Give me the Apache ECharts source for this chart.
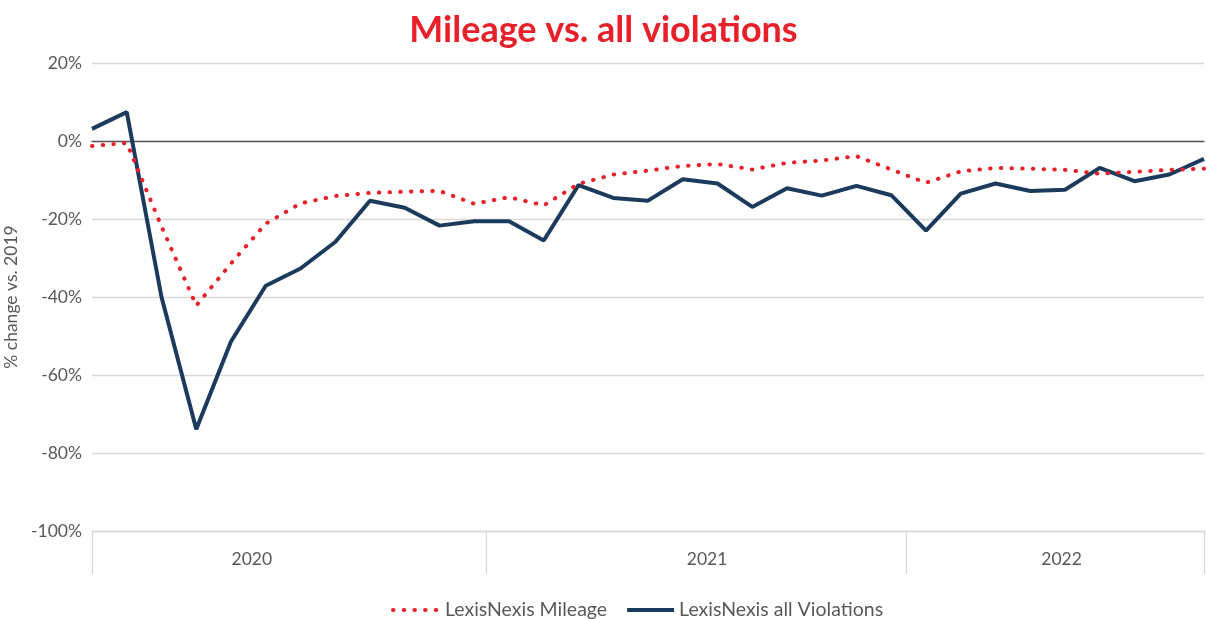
<!DOCTYPE html>
<html>
<head>
<meta charset="utf-8">
<script src="https://cdn.jsdelivr.net/npm/echarts@6/dist/echarts.min.js"></script>
<style>
html,body{margin:0;padding:0;background:#fff;}
#c{width:1207px;height:619px;}
</style>
</head>
<body>
<div id="c"></div>
<script>
// Monthly categories Jan 2020 – Sep 2022
const years = ['2020', '2021', '2022'];
const monthsPerYear = [12, 12, 9];
const categories = [];
years.forEach((y, i) => { for (let m = 1; m <= monthsPerYear[i]; m++) categories.push(y + '-' + String(m).padStart(2, '0')); });

const mileage = [-1.3, -0.5, -21.9, -42.2, -31.4, -21.2, -16.0, -14.1, -13.3, -13.0, -12.8, -16.1,
                 -14.4, -16.5, -11.0, -8.6, -7.6, -6.4, -5.9, -7.3, -5.6, -5.0, -3.9, -7.3,
                 -10.7, -7.8, -6.9, -7.1, -7.4, -8.4, -7.9, -7.4, -7.1];
const violations = [3.1, 7.4, -40.0, -73.9, -51.4, -37.1, -32.7, -25.9, -15.3, -17.1, -21.7, -20.6,
                    -20.6, -25.5, -11.3, -14.6, -15.3, -9.8, -10.9, -16.9, -12.1, -14.0, -11.5, -13.9,
                    -23.0, -13.5, -10.9, -12.8, -12.5, -6.9, -10.3, -8.6, -4.6];
const seriesNames = ['LexisNexis Mileage', 'LexisNexis all Violations'];
const yTicks = [20, 0, -20, -40, -60, -80, -100];

const chart = echarts.init(document.getElementById('c'), null, {renderer: 'canvas'});
const FONT = 'Lato, "Noto Sans", sans-serif';
const last = categories.length - 1;
// group layout (axis index units)
const yearLabelAt = [4.6, 17.7, 27.9];
const yearDividers = [0, 11.35, 23.43, last];

chart.setOption({
  animation: false,
  title: {
    text: 'Mileage vs. all violations',
    left: 'center', top: 7,
    textStyle: {color: '#E8202A', fontSize: 36, fontWeight: 'bold', fontFamily: FONT}
  },
  legend: {
    bottom: -6, left: 386,
    itemWidth: 47, itemHeight: 4, itemGap: 18,
    itemStyle: {opacity: 0},
    lineStyle: {width: 4},
    textStyle: {color: '#595959', fontSize: 19.5, fontFamily: FONT},
    data: seriesNames
  },
  grid: {left: 92, right: 3, top: 63, bottom: 88, containLabel: false, outerBoundsMode: 'none'},
  xAxis: [{
    type: 'category',
    data: categories,
    boundaryGap: false,
    axisLine: {show: true, onZero: true, lineStyle: {color: '#595959', width: 1.3}},
    axisTick: {show: false},
    axisLabel: {show: false},
    splitLine: {show: false}
  }, {
    type: 'value',
    min: 0, max: last,
    position: 'bottom',
    axisLine: {show: true, onZero: false, lineStyle: {color: '#d9d9d9', width: 1.3}},
    axisTick: {show: true, length: 43, customValues: yearDividers, lineStyle: {color: '#d9d9d9', width: 1.3}},
    axisLabel: {
      show: true, customValues: yearLabelAt, margin: 19,
      color: '#595959', fontSize: 17.5, fontFamily: FONT,
      formatter: (v) => { const i = yearLabelAt.indexOf(v); return i >= 0 ? years[i] : ''; }
    },
    splitLine: {show: false}
  }],
  yAxis: {
    type: 'value',
    min: -100, max: 20, interval: 20,
    name: '% change vs. 2019',
    nameLocation: 'middle', nameGap: 65, nameRotate: 90,
    nameTextStyle: {color: '#595959', fontSize: 17.5, fontFamily: FONT},
    axisLine: {show: false},
    axisTick: {show: false},
    axisLabel: {color: '#595959', fontSize: 17.5, fontFamily: FONT, margin: 10, formatter: v => v + '%'},
    splitLine: {lineStyle: {color: '#d9d9d9', width: 1.3}}
  },
  series: [{
    name: seriesNames[0],
    type: 'line',
    data: mileage,
    symbol: 'none',
    lineStyle: {color: '#E8202A', width: 4, type: [0.5, 10.2], cap: 'round'},
    itemStyle: {color: '#E8202A'},
    z: 3
  }, {
    name: seriesNames[1],
    type: 'line',
    data: violations,
    symbol: 'none',
    lineStyle: {color: '#1B3A5C', width: 4},
    itemStyle: {color: '#1B3A5C'},
    z: 2
  }]
});
</script>
</body>
</html>
